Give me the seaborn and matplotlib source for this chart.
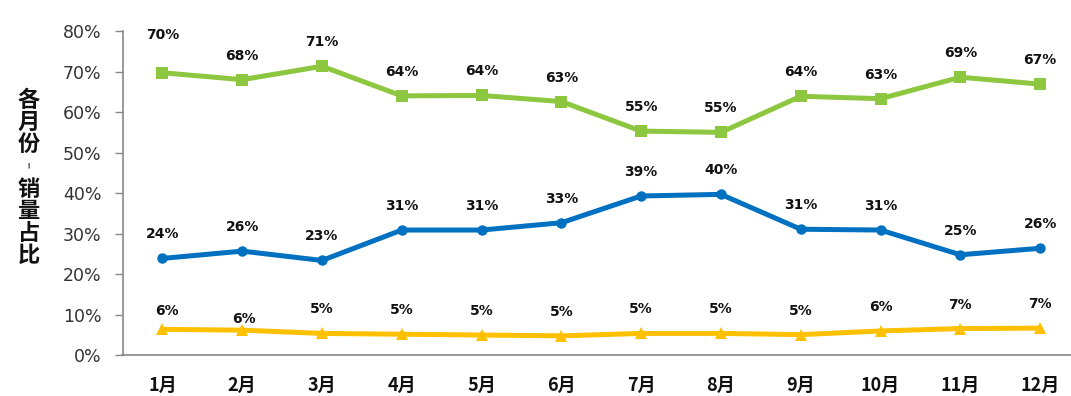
import matplotlib
matplotlib.use("Agg")
import matplotlib.pyplot as plt
import seaborn as sns
import pandas as pd

# ---- data ----
months = ["1月", "2月", "3月", "4月", "5月", "6月", "7月", "8月", "9月", "10月", "11月", "12月"]
series_green = [69.7, 68.0, 71.3, 64.0, 64.1, 62.6, 55.3, 55.0, 63.9, 63.3, 68.6, 66.9]
series_blue = [23.9, 25.7, 23.4, 30.9, 30.9, 32.7, 39.3, 39.7, 31.1, 30.9, 24.8, 26.4]
series_yellow = [6.4, 6.2, 5.4, 5.2, 5.0, 4.8, 5.4, 5.4, 5.1, 6.0, 6.6, 6.7]
series_names = ["系列1", "系列2", "系列3"]
y_ticks = [0, 10, 20, 30, 40, 50, 60, 70, 80]

# ---- styles ----
colors = {"系列1": "#8DC63F", "系列2": "#0070C0", "系列3": "#FFC000"}
markers = {"系列1": "s", "系列2": "o", "系列3": "^"}
marker_sizes = {"系列1": 8, "系列2": 7.5, "系列3": 8}
label_tweak = {("系列1", 0): (0, 14), ("系列3", 0): (5, -6), ("系列3", 1): (2, -13)}

sns.set_theme(style="white")
plt.rcParams["font.family"] = ["DejaVu Sans", "Noto Sans CJK SC"]

frames = []
for name, vals in zip(series_names, [series_green, series_blue, series_yellow]):
    frames.append(pd.DataFrame({"month": months, "value": [v / 100 for v in vals], "series": name}))
df = pd.concat(frames, ignore_index=True)

W, H = 1071, 396
fig = plt.figure(figsize=(W / 100, H / 100), dpi=100)
ax = fig.add_axes([122.5 / W, (H - 355.3) / H, (1080 - 122.5) / W, (355.3 - 31) / H])

for name in series_names:
    sub = df[df["series"] == name]
    sns.lineplot(data=sub, x="month", y="value", ax=ax, color=colors[name],
                 marker=markers[name], markersize=marker_sizes[name],
                 markeredgewidth=0, linewidth=3.6, legend=False, sort=False)

px = 0.72  # points per pixel at 100 dpi
for name in series_names:
    sub = df[df["series"] == name].reset_index(drop=True)
    for i, row in sub.iterrows():
        dx, dy = label_tweak.get((name, i), (0, 0))
        ax.annotate(f"{round(row['value'] * 100):.0f}%", (i, row["value"]),
                    xytext=(dx * px, (24 + dy) * px), textcoords="offset points",
                    ha="center", va="center", fontsize=10, fontweight="bold",
                    color="#111111", family="DejaVu Sans", annotation_clip=False)

ax.set_xlim(-0.5, len(months) - 0.5)
ax.set_ylim(0, 0.8)
ax.set_yticks([t / 100 for t in y_ticks])
ax.set_yticklabels([f"{t}%" for t in y_ticks], fontsize=12.5, color="#333333")
ax.set_xticks(range(len(months)))
ax.set_xticklabels(months, fontsize=13, fontweight="bold", color="#111111",
                   family=["Noto Sans CJK SC", "DejaVu Sans"])
ax.tick_params(axis="y", which="both", left=True, length=6, width=1, color="#888888", pad=9)
ax.tick_params(axis="x", bottom=False, pad=9)
ax.set_xlabel("")
ax.set_ylabel("")
ax.grid(False)
for s in ["top", "right"]:
    ax.spines[s].set_visible(False)
for s in ["left", "bottom"]:
    ax.spines[s].set_color("#888888")
    ax.spines[s].set_linewidth(1.2)

fig.text(29 / W, (H - 178) / H, "\n".join(["各", "月", "份", "︲", "销", "量", "占", "比"]),
         ha="center", va="center", fontsize=16, fontweight="bold", color="#111111",
         linespacing=0.95, family=["Noto Sans CJK SC", "DejaVu Sans"])

fig.savefig("out.png", dpi=100, facecolor="white")
